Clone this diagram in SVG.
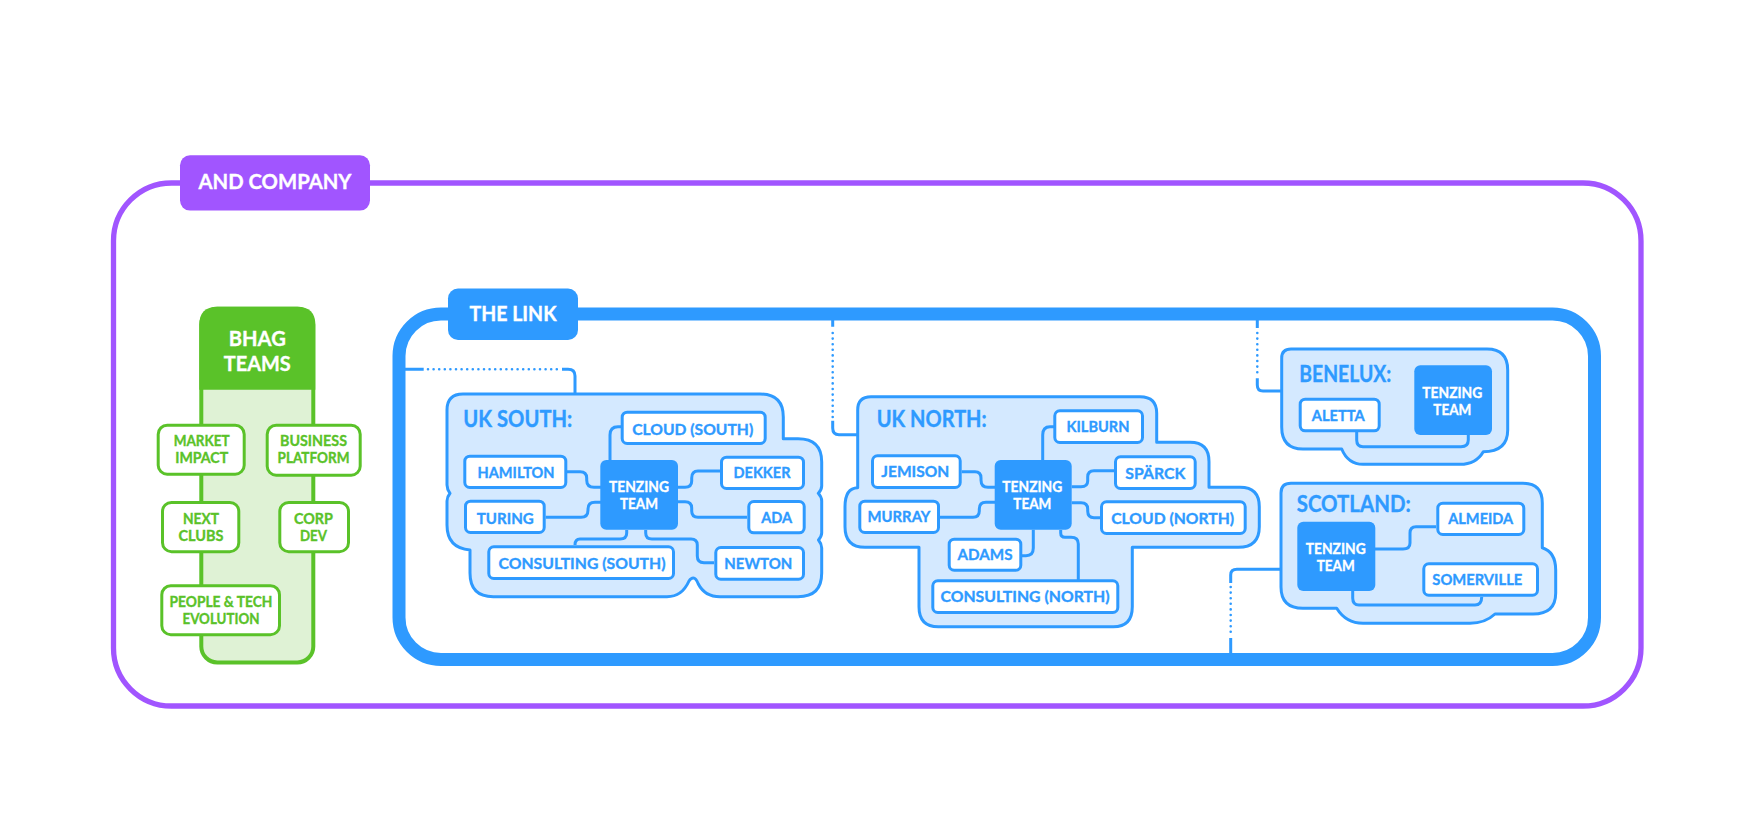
<svg xmlns="http://www.w3.org/2000/svg" width="1755" height="836" viewBox="0 0 1755 836">
<style>
text{font-family:"Lato","Liberation Sans",sans-serif;font-weight:700;text-anchor:middle;stroke-width:.35px}
.blob{fill:#d4e9ff;stroke:#2e9aff;stroke-width:3;stroke-linejoin:round}
.n{fill:#fff;stroke:#2e9aff;stroke-width:3}
.nt{fill:#2e9aff;stroke:#2e9aff;font-size:16px}
.wt{fill:#fff;stroke:#fff;font-size:15.5px}
.ht{fill:#fff;stroke:#fff}
.head{fill:#2e9aff;stroke:#2e9aff;font-size:22px;text-anchor:start}
.g{fill:#fff;stroke:#5ac229;stroke-width:3}
.gt{fill:#5ac229;stroke:#5ac229;font-size:14.8px}
.c{fill:none;stroke:#2e9aff;stroke-width:3}
.d{fill:none;stroke:#2e9aff;stroke-width:2.6;stroke-linecap:round;stroke-dasharray:0 5.6}
</style>
<g id="and-company">
<rect x="113.5" y="183" width="1527.5" height="523" rx="58" fill="#fff" stroke="#a155ff" stroke-width="5.3"/>
<rect x="180" y="155.2" width="190" height="55.4" rx="10" fill="#a155ff"/>
<text class="ht" x="275" y="189.2" font-size="20.5" textLength="153" lengthAdjust="spacingAndGlyphs">AND COMPANY</text>
</g>
<g id="bhag-teams">
<rect x="201.3" y="308.7" width="112" height="353.7" rx="16" fill="#dff2d5" stroke="#5ac229" stroke-width="4"/>
<path d="M199.3 389.7V324.7Q199.3 306.7 217.3 306.7H297.3Q315.3 306.7 315.3 324.7V389.7Z" fill="#5ac229"/>
<text class="ht" x="257.3" y="346" font-size="20" textLength="57" lengthAdjust="spacingAndGlyphs">BHAG</text>
<text class="ht" x="257.3" y="370.7" font-size="20" textLength="67" lengthAdjust="spacingAndGlyphs">TEAMS</text>
</g>
<g id="the-link">
<rect x="399" y="314" width="1195.5" height="345.5" rx="42" fill="#fff" stroke="#2e9aff" stroke-width="13"/>
<rect x="448" y="288.5" width="130" height="51.5" rx="10" fill="#2e9aff"/>
<text class="ht" x="513" y="321" font-size="21" textLength="87" lengthAdjust="spacingAndGlyphs">THE LINK</text>
</g>
<g id="uk-south"><path class="blob" d="M447 410Q447 394 463 394H760Q783.3 394 783.3 417V438.7H798Q821.7 438.7 821.7 462V486Q821.7 490 818.3 493.3Q821.7 497 821.7 501V533Q821.7 536 818.5 540Q821.7 544 821.7 548V573Q821.7 596.7 798 596.7H720Q705 596.7 698.3 584Q696 578 693.3 578Q691 578 689 581Q682 596.7 667 596.7H493.3Q470 596.7 470 573V550Q447 548 447 525V501Q447 497 450 493.3Q447 489 447 485Z"/>
<text class="head" x="463.3" y="427.3" textLength="109" lengthAdjust="spacingAndGlyphs">UK SOUTH:</text></g>
<g id="uk-north"><path class="blob" d="M857.7 410Q857.7 396.7 871 396.7H1140Q1156.7 396.7 1156.7 413.3V442.3H1190Q1209 442.3 1209 461.7V487.3H1240Q1259.3 487.3 1259.3 506.7V526.7Q1259.3 547.3 1238.3 547.3H1132.3V606.7Q1132.3 626.7 1113.3 626.7H938.3Q919 626.7 919 606.7V547.3H865Q845 547.3 845 526.7V506.7Q845 488 857.7 487.7Z"/>
<text class="head" x="876.7" y="427" textLength="110" lengthAdjust="spacingAndGlyphs">UK NORTH:</text></g>
<g id="benelux"><path class="blob" d="M1281.7 358Q1281.7 349 1291 349H1487Q1507.7 349 1507.7 370V430Q1507.7 451.7 1483.3 451.7Q1476 464.3 1460 464.3H1363Q1348 464.3 1341.7 449H1303Q1281.7 449 1281.7 427Z"/>
<text class="head" x="1299.3" y="381.7" textLength="92" lengthAdjust="spacingAndGlyphs">BENELUX:</text></g>
<g id="scotland"><path class="blob" d="M1281 493Q1281 483.3 1291 483.3H1523Q1542.3 483.3 1542.3 503V547.7Q1555.7 552 1555.7 570V593Q1555.7 614 1533 614H1495Q1485 623.3 1470 623.3H1363Q1346 623.3 1336.7 608.3H1303Q1281 608.3 1281 587Z"/>
<text class="head" x="1296.7" y="511.7" textLength="114" lengthAdjust="spacingAndGlyphs">SCOTLAND:</text></g>
<g id="connectors">
<path class="c" d="M405 369.3H423.7M562 369.3H568Q575 369.3 575 376V394"/>
<path class="d" d="M428 369.3H558"/>
<path class="c" d="M832.7 320V326.7M832.7 420.7V428Q832.7 434.7 839 434.7H857"/>
<path class="d" d="M832.7 333V417"/>
<path class="c" d="M1257.3 320V328M1257.3 378.3V385Q1257.3 391 1263 391H1282"/>
<path class="d" d="M1257.3 333V375"/>
<path class="c" d="M1281 569.3H1237Q1230.7 569.3 1230.7 575V583M1230.7 638V653"/>
<path class="d" d="M1230.7 587V633"/>
<path class="c" d="M567 471.7H580Q586.7 471.7 586.7 478V480Q586.7 487.3 594 487.3H601M545.7 517.3H581Q588 517.3 588 510V509Q588 502.3 595 502.3H601M610 460V435Q610 426.7 618 426.7H621M678 487.3H685Q691.7 487.3 691.7 481V478Q691.7 471 698 471H720M678 501.7H685Q691.7 501.7 691.7 508V511Q691.7 517.3 698 517.3H747M626.7 530V533Q626.7 539 620 539H580Q575 539 575 545M645.7 530V533Q645.7 539 652 539H691Q697.3 539 697.3 545V556Q697.3 562.7 704 562.7H714"/>
<path class="c" d="M1042.7 460V435Q1042.7 426.7 1050 426.7H1054M961.7 471.7H975Q981 471.7 981 478V480Q981 487.3 988 487.3H995M940 517.3H973Q979.3 517.3 979.3 511V509Q979.3 502.3 986 502.3H995M1033.3 529.7V548Q1033.3 555.7 1026 555.7H1022M1060.7 530V533Q1060.7 537.3 1065 537.3H1071Q1078.3 537.3 1078.3 544V580M1071.7 486.7H1081Q1087.7 486.7 1087.7 481V477Q1087.7 470.7 1094 470.7H1114M1071.7 502.7H1081Q1087.7 502.7 1087.7 509V511Q1087.7 517.7 1094 517.7H1100"/>
<path class="c" d="M1356.7 432V440Q1356.7 446.7 1363 446.7H1461Q1468.3 446.7 1468.3 440V435M1375 549H1403Q1410 549 1410 543V533Q1410 526.7 1416 526.7H1436M1352.7 591V598Q1352.7 605 1359 605H1475Q1481.7 605 1481.7 597"/>
</g>
<g id="market-impact"><rect class="g" x="158.2" y="425.2" width="86" height="49" rx="9"/><text class="gt" x="201.7" y="445.8" textLength="56" lengthAdjust="spacingAndGlyphs">MARKET</text><text class="gt" x="201.7" y="462.7" textLength="53" lengthAdjust="spacingAndGlyphs">IMPACT</text></g>
<g id="business-platform"><rect class="g" x="267.2" y="425.2" width="93" height="50" rx="9"/><text class="gt" x="313.5" y="445.8" textLength="67" lengthAdjust="spacingAndGlyphs">BUSINESS</text><text class="gt" x="313.5" y="462.7" textLength="72" lengthAdjust="spacingAndGlyphs">PLATFORM</text></g>
<g id="next-clubs"><rect class="g" x="162.5" y="502.4" width="76.3" height="49.3" rx="9"/><text class="gt" x="201" y="524" textLength="36" lengthAdjust="spacingAndGlyphs">NEXT</text><text class="gt" x="201" y="541.2" textLength="45" lengthAdjust="spacingAndGlyphs">CLUBS</text></g>
<g id="corp-dev"><rect class="g" x="279.8" y="502.4" width="68.7" height="49.3" rx="9"/><text class="gt" x="313.5" y="524" textLength="39" lengthAdjust="spacingAndGlyphs">CORP</text><text class="gt" x="313.5" y="541.2" textLength="27" lengthAdjust="spacingAndGlyphs">DEV</text></g>
<g id="people-tech"><rect class="g" x="161.8" y="585.7" width="117.7" height="49" rx="9"/><text class="gt" x="221" y="607.3" textLength="103" lengthAdjust="spacingAndGlyphs">PEOPLE &amp; TECH</text><text class="gt" x="221" y="623.8" textLength="77" lengthAdjust="spacingAndGlyphs">EVOLUTION</text></g>
<g id="cloud-south"><rect class="n" x="622.2" y="412.2" width="143" height="31.3" rx="5"/><text class="nt" x="692.7" y="435" textLength="121" lengthAdjust="spacingAndGlyphs">CLOUD (SOUTH)</text></g>
<g id="hamilton"><rect class="n" x="464.8" y="456.2" width="101" height="31.3" rx="5"/><text class="nt" x="516" y="478.3" textLength="77" lengthAdjust="spacingAndGlyphs">HAMILTON</text></g>
<g id="turing"><rect class="n" x="465.5" y="501.2" width="78.7" height="31.3" rx="5"/><text class="nt" x="505.3" y="523.5" textLength="57" lengthAdjust="spacingAndGlyphs">TURING</text></g>
<g id="dekker"><rect class="n" x="721.5" y="457.2" width="82" height="31.3" rx="5"/><text class="nt" x="762" y="478.3" textLength="57" lengthAdjust="spacingAndGlyphs">DEKKER</text></g>
<g id="ada"><rect class="n" x="748.8" y="501.5" width="55.4" height="31.3" rx="5"/><text class="nt" x="776.7" y="523" textLength="31" lengthAdjust="spacingAndGlyphs">ADA</text></g>
<g id="consulting-south"><rect class="n" x="488.8" y="546.8" width="184.7" height="31.7" rx="5"/><text class="nt" x="582" y="569.3" textLength="167" lengthAdjust="spacingAndGlyphs">CONSULTING (SOUTH)</text></g>
<g id="newton"><rect class="n" x="715.8" y="547.5" width="87.7" height="31.7" rx="5"/><text class="nt" x="758.3" y="569.3" textLength="68" lengthAdjust="spacingAndGlyphs">NEWTON</text></g>
<g id="tenzing-south"><rect x="600.3" y="460" width="77.7" height="69.7" rx="6" fill="#2e9aff"/><text class="wt" x="639" y="492.3" textLength="60" lengthAdjust="spacingAndGlyphs">TENZING</text><text class="wt" x="639" y="509.3" textLength="38" lengthAdjust="spacingAndGlyphs">TEAM</text></g>
<g id="kilburn"><rect class="n" x="1054.8" y="410.8" width="87.7" height="31.7" rx="5"/><text class="nt" x="1098" y="432.3" textLength="63" lengthAdjust="spacingAndGlyphs">KILBURN</text></g>
<g id="jemison"><rect class="n" x="872.5" y="455.8" width="87.7" height="31.7" rx="5"/><text class="nt" x="915.3" y="476.7" textLength="68" lengthAdjust="spacingAndGlyphs">JEMISON</text></g>
<g id="murray"><rect class="n" x="859.8" y="501.2" width="78.7" height="31.3" rx="5"/><text class="nt" x="899" y="522.3" textLength="63" lengthAdjust="spacingAndGlyphs">MURRAY</text></g>
<g id="adams"><rect class="n" x="949.2" y="539.2" width="71.6" height="31" rx="5"/><text class="nt" x="985" y="560.3" textLength="55" lengthAdjust="spacingAndGlyphs">ADAMS</text></g>
<g id="consulting-north"><rect class="n" x="932.8" y="580.8" width="185" height="31.7" rx="5"/><text class="nt" x="1025" y="602.3" textLength="169" lengthAdjust="spacingAndGlyphs">CONSULTING (NORTH)</text></g>
<g id="sparck"><rect class="n" x="1115.5" y="456.8" width="79.7" height="31.7" rx="5"/><text class="nt" x="1155.3" y="479" textLength="60" lengthAdjust="spacingAndGlyphs">SPÄRCK</text></g>
<g id="cloud-north"><rect class="n" x="1101.5" y="501.8" width="143.7" height="31.7" rx="5"/><text class="nt" x="1172.7" y="523.7" textLength="123" lengthAdjust="spacingAndGlyphs">CLOUD (NORTH)</text></g>
<g id="tenzing-north"><rect x="994.7" y="460" width="77" height="69.7" rx="6" fill="#2e9aff"/><text class="wt" x="1032.3" y="492.3" textLength="60" lengthAdjust="spacingAndGlyphs">TENZING</text><text class="wt" x="1032.3" y="509.3" textLength="38" lengthAdjust="spacingAndGlyphs">TEAM</text></g>
<g id="aletta"><rect class="n" x="1300.2" y="399.2" width="79" height="31.6" rx="5"/><text class="nt" x="1338.3" y="420.7" textLength="53" lengthAdjust="spacingAndGlyphs">ALETTA</text></g>
<g id="tenzing-benelux"><rect x="1414.3" y="365.3" width="77.7" height="69.7" rx="6" fill="#2e9aff"/><text class="wt" x="1452.3" y="397.7" textLength="60" lengthAdjust="spacingAndGlyphs">TENZING</text><text class="wt" x="1452.3" y="415" textLength="38" lengthAdjust="spacingAndGlyphs">TEAM</text></g>
<g id="almeida"><rect class="n" x="1437.8" y="503.2" width="86" height="31.3" rx="5"/><text class="nt" x="1480.7" y="524.3" textLength="65" lengthAdjust="spacingAndGlyphs">ALMEIDA</text></g>
<g id="somerville"><rect class="n" x="1423.8" y="563.8" width="113.7" height="31.4" rx="5"/><text class="nt" x="1477.3" y="585" textLength="90" lengthAdjust="spacingAndGlyphs">SOMERVILLE</text></g>
<g id="tenzing-scotland"><rect x="1297.3" y="521.7" width="78" height="69.3" rx="6" fill="#2e9aff"/><text class="wt" x="1335.7" y="554.3" textLength="60" lengthAdjust="spacingAndGlyphs">TENZING</text><text class="wt" x="1335.7" y="571.3" textLength="38" lengthAdjust="spacingAndGlyphs">TEAM</text></g>
</svg>
